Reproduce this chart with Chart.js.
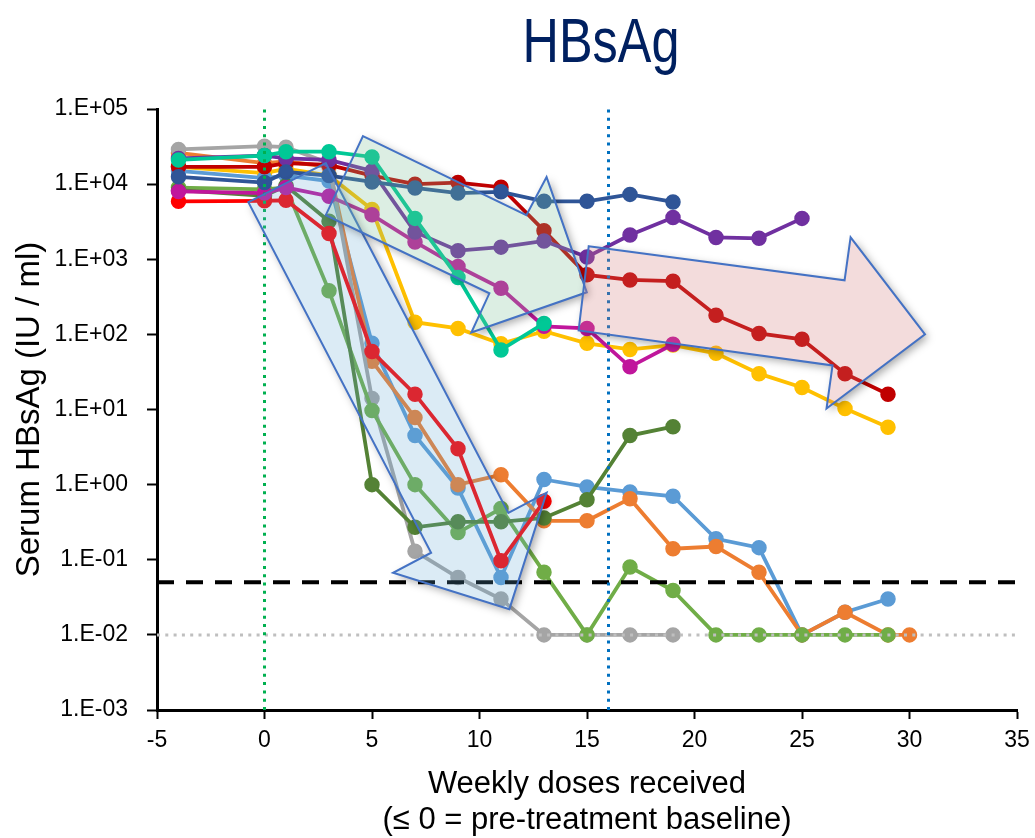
<!DOCTYPE html>
<html>
<head>
<meta charset="utf-8">
<title>HBsAg</title>
<script src="https://cdn.jsdelivr.net/npm/chart.js@4.4.1/dist/chart.umd.min.js"></script>
<style>
  html, body { margin: 0; padding: 0; background: #fff; }
  #wrap { width: 1035px; height: 838px; }
</style>
</head>
<body>
<div id="wrap"><canvas id="hbsChart" width="1035" height="838"></canvas></div>
<script>
// Serum HBsAg per patient vs weekly doses received (<= 0 = baseline)

const yTickValues = [1e-3, 1e-2, 1e-1, 1, 10, 100, 1e3, 1e4, 1e5];

const darkBlueDoses = [-4, 0, 1, 3, 5, 7, 9, 11, 13, 15, 17, 19];
const darkBlueValues = [12500, 10500, 14500, 13000, 10700, 8900, 7600, 7900, 5900, 5900, 7300, 5800];

const tealDoses = [-4, 0, 1, 3, 5, 7, 9, 11, 13];
const tealValues = [21000, 24000, 27000, 27000, 23000, 3500, 570, 62, 140];

const purpleDoses = [-4, 0, 1, 3, 5, 7, 9, 11, 13, 15, 17, 19, 21, 23, 25];
const purpleValues = [22000, 24000, 22000, 21000, 15000, 2300, 1300, 1450, 1750, 1070, 2100, 3600, 1950, 1900, 3500];

const magentaDoses = [-4, 0, 1, 3, 5, 7, 9, 11, 13, 15, 17, 19];
const magentaValues = [8000, 7600, 9000, 6900, 3900, 1700, 800, 410, 128, 120, 37, 74];

const darkRedDoses = [-4, 0, 1, 3, 5, 7, 9, 11, 13, 15, 17, 19, 21, 23, 25, 27, 29];
const darkRedValues = [17000, 17000, 19000, 18000, 13000, 10000, 10500, 9100, 2400, 620, 530, 510, 180, 103, 86, 30, 16];

const redDoses = [-4, 0, 1, 3, 5, 7, 9, 11, 13];
const redValues = [5900, 6000, 6100, 2200, 59, 16, 3.0, 0.097, 0.6];

const darkGreenDoses = [-4, 0, 1, 3, 5, 7, 9, 11, 13, 15, 17, 19];
const darkGreenValues = [8300, 7000, 9500, 3200, 1.0, 0.27, 0.32, 0.32, 0.36, 0.63, 4.5, 5.9];

const lightGreenDoses = [-4, 0, 1, 3, 5, 7, 9, 11, 13, 15, 17, 19, 21, 23, 25, 27, 29];
const lightGreenValues = [9000, 8500, 9000, 380, 9.7, 1.0, 0.23, 0.48, 0.068, 0.01, 0.08, 0.039, 0.01, 0.01, 0.01, 0.01, 0.01];

const grayDoses = [-4, 0, 1, 3, 5, 7, 9, 11, 13, 15, 17, 19];
const grayValues = [29000, 32000, 31000, 19000, 14, 0.13, 0.058, 0.03, 0.01, 0.01, 0.01, 0.01];

const orangeDoses = [-4, 0, 1, 3, 5, 7, 9, 11, 13, 15, 17, 19, 21, 23, 25, 27, 29, 30];
const orangeValues = [26000, 19000, 20000, 17000, 44, 7.8, 1.0, 1.35, 0.33, 0.33, 0.65, 0.14, 0.15, 0.068, 0.01, 0.02, 0.01, 0.01];

const lightBlueDoses = [-4, 0, 1, 3, 5, 7, 9, 11, 13, 15, 17, 19, 21, 23, 25, 27, 29];
const lightBlueValues = [15000, 12000, 13000, 11000, 76, 4.5, 0.9, 0.058, 1.17, 0.93, 0.8, 0.7, 0.19, 0.145, 0.01, 0.02, 0.03];

const goldDoses = [-4, 0, 1, 3, 5, 7, 9, 11, 13, 15, 17, 19, 21, 23, 25, 27, 29];
const goldValues = [17000, 14000, 16000, 13000, 4600, 145, 120, 75, 110, 76, 63, 72, 56, 30, 19.6, 10.3, 5.8];

// reference lines
const baselineDose = 0;
const cutoffDose = 16;
const lloqValue = 0.05;
const floorValue = 0.01;

// highlight arrows, corners in data units [dose, HBsAg]
const fastArrow = [[-0.75, 5750], [2.85, 19000], [11.34, 0.42], [13.12, 0.78], [11.39, 0.022], [5.98, 0.067], [7.75, 0.124]];
const slowArrow = [[4.58, 43600], [12.18, 3860], [13.12, 12400], [14.99, 363], [9.62, 106], [10.46, 352], [2.85, 3860]];
const lateArrow = [[15.08, 1490], [26.98, 525], [27.26, 1960], [30.72, 100], [26.14, 10.3], [26.42, 38.6], [14.61, 113]];

const FONT = '"Liberation Sans", Arial, sans-serif';
Chart.defaults.font.family = FONT;
Chart.defaults.color = '#000';

function toPoints(doses, values) {
  return doses.map((d, i) => ({ x: d, y: values[i] }));
}

function series(label, doses, values, color) {
  return {
    label: label,
    data: toPoints(doses, values),
    borderColor: color,
    backgroundColor: color,
    pointBackgroundColor: color,
    pointBorderColor: color,
    borderWidth: 3.8,
    pointRadius: 7,
    pointBorderWidth: 1.5,
    tension: 0
  };
}

function refLine(label, points, color, dash, width) {
  return {
    label: label,
    data: points,
    borderColor: color,
    borderWidth: width,
    borderDash: dash,
    pointRadius: 0,
    tension: 0
  };
}

const datasets = [
  refLine('baseline', [{ x: baselineDose, y: 1e-3 }, { x: baselineDose, y: 1e5 }], '#00b050', [3, 5.3], 3),
  refLine('cutoff', [{ x: cutoffDose, y: 1e-3 }, { x: cutoffDose, y: 1e5 }], '#0070c0', [3, 5.3], 3),
  refLine('lloq', [{ x: -5, y: lloqValue }, { x: 35, y: lloqValue }], '#000000', [17, 12], 4),
  refLine('floor', [{ x: -5, y: floorValue }, { x: 35, y: floorValue }], '#bfbfbf', [3, 5.3], 3),
  series('P1', darkBlueDoses, darkBlueValues, '#2f5597'),
  series('P2', tealDoses, tealValues, '#00c896'),
  series('P3', purpleDoses, purpleValues, '#7030a0'),
  series('P4', magentaDoses, magentaValues, '#c0169c'),
  series('P5', darkRedDoses, darkRedValues, '#c00000'),
  series('P6', redDoses, redValues, '#ff0000'),
  series('P7', darkGreenDoses, darkGreenValues, '#548235'),
  series('P8', lightGreenDoses, lightGreenValues, '#70ad47'),
  series('P9', grayDoses, grayValues, '#a5a5a5'),
  series('P10', orangeDoses, orangeValues, '#ed7d31'),
  series('P11', lightBlueDoses, lightBlueValues, '#5b9bd5'),
  series('P12', goldDoses, goldValues, '#ffc000')
];

function arrowPath(ctx, scales, pts) {
  ctx.beginPath();
  pts.forEach((p, i) => {
    const px = scales.x.getPixelForValue(p[0]);
    const py = scales.y.getPixelForValue(p[1]);
    if (i === 0) ctx.moveTo(px, py); else ctx.lineTo(px, py);
  });
  ctx.closePath();
}

// translucent arrows drawn over the lines, shadow only outside the shape
const arrowsPlugin = {
  id: 'arrows',
  afterDatasetsDraw(chart) {
    const { ctx, scales, width, height } = chart;
    const shapes = [
      { pts: fastArrow, fill: 'rgba(100,170,210,0.23)' },
      { pts: slowArrow, fill: 'rgba(120,190,145,0.26)' },
      { pts: lateArrow, fill: 'rgba(210,120,120,0.26)' }
    ];
    shapes.forEach(s => {
      // soft shadow
      ctx.save();
      ctx.beginPath();
      ctx.rect(0, 0, width, height);
      s.pts.slice().reverse().forEach((p, i) => {
        const px = scales.x.getPixelForValue(p[0]);
        const py = scales.y.getPixelForValue(p[1]);
        if (i === 0) ctx.moveTo(px, py); else ctx.lineTo(px, py);
      });
      ctx.closePath();
      ctx.clip('evenodd');
      arrowPath(ctx, scales, s.pts);
      ctx.shadowColor = 'rgba(0,0,0,0.35)';
      ctx.shadowBlur = 8;
      ctx.shadowOffsetX = 3;
      ctx.shadowOffsetY = 3;
      ctx.fillStyle = '#fff';
      ctx.fill();
      ctx.restore();

      ctx.save();
      arrowPath(ctx, scales, s.pts);
      ctx.fillStyle = s.fill;
      ctx.fill();
      ctx.strokeStyle = '#4472c4';
      ctx.lineWidth = 2;
      ctx.lineJoin = 'miter';
      ctx.stroke();
      ctx.restore();
    });
  }
};

const titlePlugin = {
  id: 'bigTitle',
  afterDraw(chart) {
    const ctx = chart.ctx;
    ctx.save();
    ctx.font = '63px "Liberation Sans", Arial, sans-serif';
    ctx.fillStyle = '#002060';
    ctx.textAlign = 'center';
    ctx.textBaseline = 'alphabetic';
    ctx.translate(601, 62);
    ctx.scale(0.8, 1);
    ctx.fillText('HBsAg', 0, 0);
    ctx.restore();
  }
};

function sciLabel(v) {
  const e = Math.round(Math.log10(v));
  const a = Math.abs(e);
  return '1.E' + (e < 0 ? '-' : '+') + (a < 10 ? '0' : '') + a;
}

new Chart(document.getElementById('hbsChart'), {
  type: 'line',
  data: { datasets: datasets },
  plugins: [arrowsPlugin, titlePlugin],
  options: {
    responsive: false,
    animation: false,
    layout: { padding: { top: 109, right: 18, left: 0, bottom: 0 } },
    plugins: {
      legend: { display: false },
      tooltip: { enabled: false },
      title: { display: false }
    },
    scales: {
      x: {
        type: 'linear',
        min: -5,
        max: 35,
        ticks: { stepSize: 5, font: { size: 23 }, padding: 8, color: '#000' },
        grid: { drawOnChartArea: false, drawTicks: true, tickLength: 9, tickColor: '#000', tickWidth: 2 },
        border: { display: true, color: '#000', width: 3 },
        title: {
          display: true,
          text: ['Weekly doses received', '(\u2264 0 = pre-treatment baseline)'],
          font: { size: 31, lineHeight: 1.16 },
          color: '#000',
          padding: { top: 0, bottom: 0 }
        },
        afterFit(scale) {
          scale.height = 128;
          scale.paddingLeft = 0;
          scale.paddingRight = 0;
        }
      },
      y: {
        type: 'logarithmic',
        min: 1e-3,
        max: 1e5,
        afterBuildTicks(scale) {
          scale.ticks = yTickValues.map(v => ({ value: v }));
        },
        ticks: { callback: v => sciLabel(v), font: { size: 23 }, padding: 19, color: '#000', autoSkip: false },
        grid: { drawOnChartArea: false, drawTicks: true, tickLength: 10, tickColor: '#000', tickWidth: 2 },
        border: { display: true, color: '#000', width: 3 },
        title: {
          display: true,
          text: 'Serum HBsAg (IU / ml)',
          font: { size: 33, lineHeight: 1.2 },
          color: '#000',
          padding: { top: 10, bottom: 0 }
        },
        afterFit(scale) { scale.width = 157; }
      }
    }
  }
});
</script>
</body>
</html>
